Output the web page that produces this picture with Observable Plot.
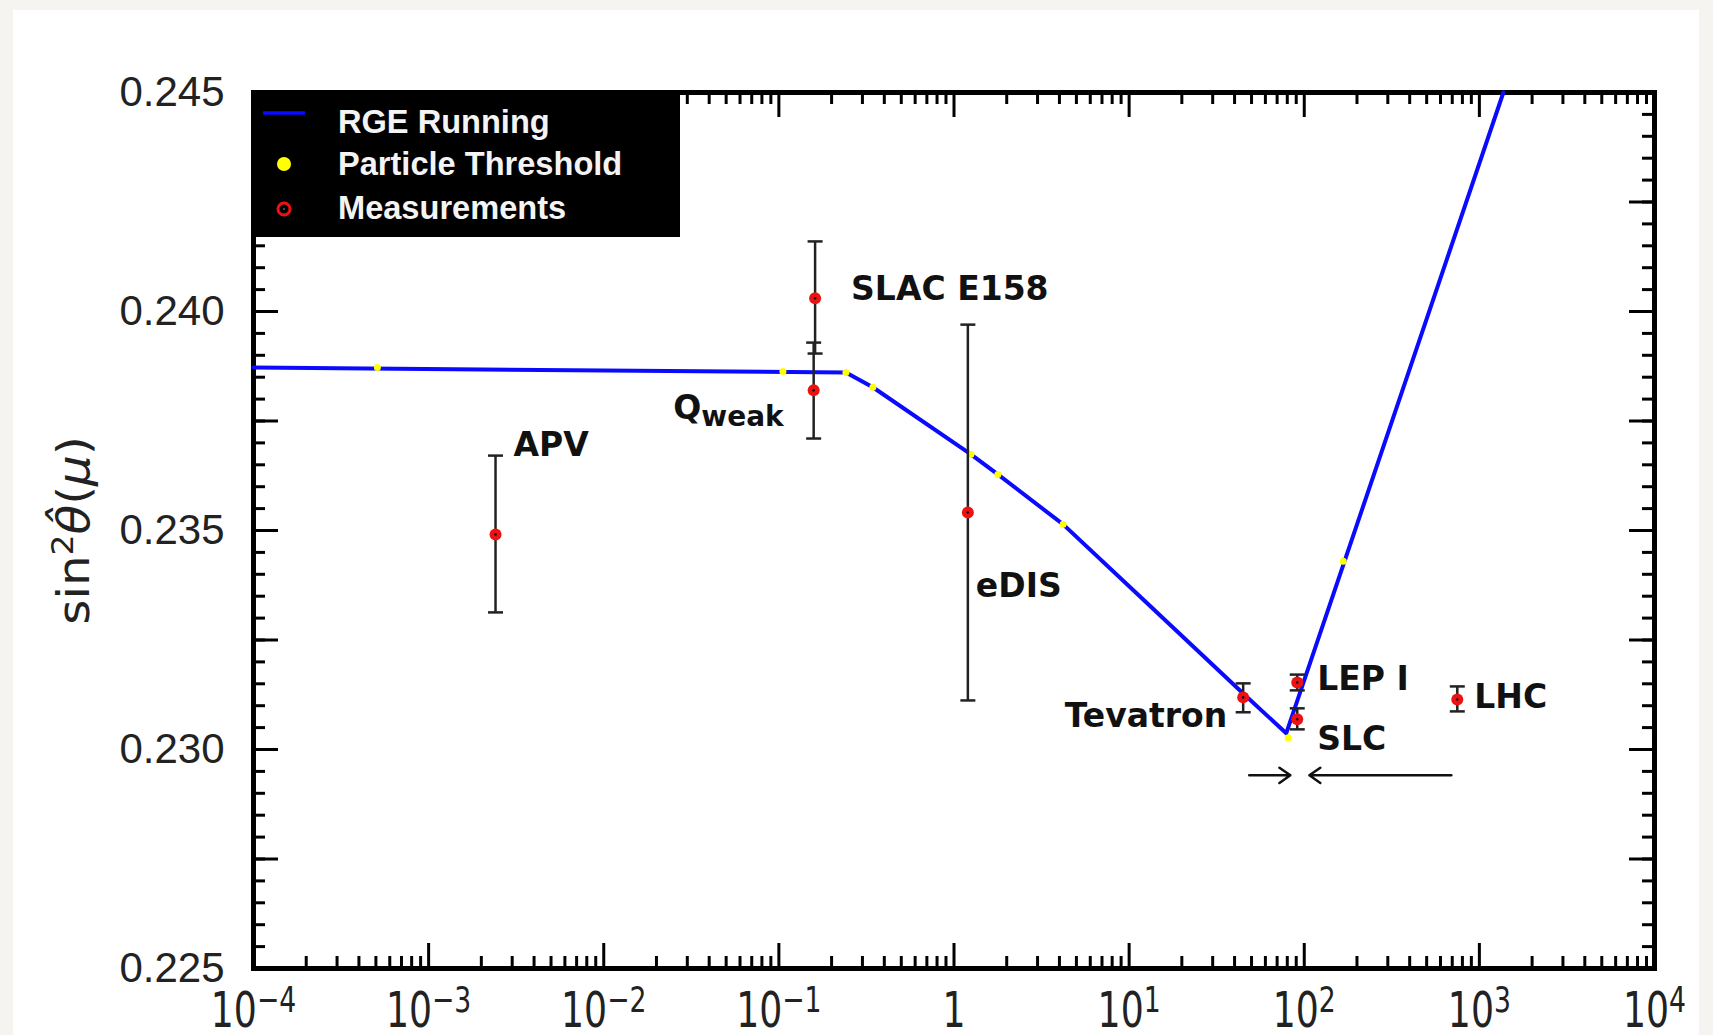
<!DOCTYPE html>
<html><head><meta charset="utf-8">
<script src="https://cdn.jsdelivr.net/npm/d3@7"></script>
<script src="https://cdn.jsdelivr.net/npm/@observablehq/plot@0.6"></script>
<style>
html,body{margin:0;padding:0;background:#f5f4f0;width:1713px;height:1035px;overflow:hidden;}
#card{position:absolute;left:13px;top:10px;width:1686px;height:1100px;background:#fff;}
#chart{position:absolute;left:0;top:0;}
#legend{position:absolute;left:251px;top:90px;}
</style></head><body>
<div id="card"></div>
<div id="chart"></div>
<script>
// ---------- DATA ----------
// RGE running curve (mu in GeV, sin^2 theta)
const rgeMu = [1e-4, 0.2415, 0.344, 1.25, 1.78, 4.2, 11.7, 44.8, 78.9, 1371];
const rgeS2 = [0.23872, 0.23861, 0.23827, 0.23674, 0.23628, 0.23514, 0.23347, 0.23128, 0.23037, 0.245];
// particle thresholds
const thrMu = [5.1e-4, 0.1055, 0.2415, 0.344, 1.25, 1.78, 4.2, 81, 167];
const thrS2 = [0.23872, 0.23863, 0.23861, 0.23827, 0.23674, 0.23628, 0.23514, 0.23027, 0.2343];
// measurements
const measNames = ["APV", "Qweak", "SLAC E158", "eDIS", "Tevatron", "LEP I", "SLC", "LHC"];
const measMu    = [2.41e-3, 0.158, 0.161, 1.20, 44.8, 91.2, 91.2, 748];
const measS2    = [0.23491, 0.23820, 0.24030, 0.23541, 0.23119, 0.23153, 0.23069, 0.23114];
const measLo    = [0.23313, 0.23710, 0.23904, 0.23112, 0.23085, 0.23135, 0.23046, 0.23087];
const measHi    = [0.23671, 0.23929, 0.24160, 0.23970, 0.23151, 0.23171, 0.23094, 0.23144];
// arrows
const arrowFrom = [48.5, 692];
const arrowTo   = [83.3, 107];
const arrowS2   = [0.22941, 0.22941];
// axes
const xTickVals = [1e-4, 1e-3, 1e-2, 1e-1, 1, 10, 100, 1000, 10000];
const xTickLabels = ["10^−4", "10^−3", "10^−2", "10^−1", "1", "10^1", "10^2", "10^3", "10^4"];
const yTickVals = [0.225, 0.230, 0.235, 0.240, 0.245];
const yTitle = "sin2θ(μ)";
const legendLabels = ["RGE Running", "Particle Threshold", "Measurements"];

// ---------- LAYOUT / STYLE ----------
const W = 1713, H = 1035, mL = 253, mR = 59, mT = 92, mB = 67;
const fw = W - mL - mR, fh = H - mT - mB;
const labelOffset = { // px offsets of annotation text from its point
  "APV": [18, -89, "start"], "Qweak": [-30, 18, "end"], "SLAC E158": [36, -9, "start"],
  "eDIS": [8, 74, "start"], "Tevatron": [-16, 19, "end"], "LEP I": [20, -3, "start"],
  "SLC": [20, 20, "start"], "LHC": [17, -2, "start"]
};

const rge = rgeMu.map((m, i) => ({mu: m, s2: rgeS2[i]}));
const thr = thrMu.map((m, i) => ({mu: m, s2: thrS2[i]}));
const meas = measNames.map((n, i) => ({name: n, mu: measMu[i], s2: measS2[i], lo: measLo[i], hi: measHi[i]}));
const arrows = arrowFrom.map((f, i) => ({x1: f, x2: arrowTo[i], y: arrowS2[i]}));

const xMinor = [];
for (let e = -4; e < 4; e++) for (let k = 2; k <= 9; k++) xMinor.push(k * Math.pow(10, e));
const yMajor = d3.range(0, 9).map(i => +(0.225 + i * 0.0025).toFixed(4));
const yMinor = d3.range(0, 41).map(i => +(0.225 + i * 0.0005).toFixed(4));

const capSymbol = {draw(ctx, size) { const r = Math.sqrt(size / Math.PI); ctx.moveTo(-r, 0); ctx.lineTo(r, 0); }};
const tickStyle = {stroke: "black", strokeWidth: 3};
const annFont = {fontFamily: "DejaVu Sans", fontWeight: "bold", fontSize: 33, fill: "#111"};

const marks = [
  // ticks (inward)
  Plot.ruleX(xTickVals, {x: d => d, insetTop: fh - 25, ...tickStyle}),
  Plot.ruleX(xTickVals, {x: d => d, insetBottom: fh - 25, ...tickStyle}),
  Plot.ruleX(xMinor, {x: d => d, insetTop: fh - 12, ...tickStyle}),
  Plot.ruleX(xMinor, {x: d => d, insetBottom: fh - 12, ...tickStyle}),
  Plot.ruleY(yMajor, {y: d => d, insetRight: fw - 25, ...tickStyle}),
  Plot.ruleY(yMajor, {y: d => d, insetLeft: fw - 25, ...tickStyle}),
  Plot.ruleY(yMinor, {y: d => d, insetRight: fw - 12, ...tickStyle}),
  Plot.ruleY(yMinor, {y: d => d, insetLeft: fw - 12, ...tickStyle}),
  Plot.frame({stroke: "black", strokeWidth: 5}),
  // RGE line & thresholds
  Plot.line(rge, {x: "mu", y: "s2", stroke: "#0a0aff", strokeWidth: 4}),
  Plot.dot(thr, {x: "mu", y: "s2", r: 3.5, fill: "#ffff00"}),
  // measurements
  Plot.ruleX(meas, {x: "mu", y1: "lo", y2: "hi", stroke: "#222", strokeWidth: 2.5}),
  Plot.dot(meas, {x: "mu", y: "lo", symbol: capSymbol, r: 7.5, fill: "none", stroke: "#222", strokeWidth: 2.5}),
  Plot.dot(meas, {x: "mu", y: "hi", symbol: capSymbol, r: 7.5, fill: "none", stroke: "#222", strokeWidth: 2.5}),
  Plot.dot(meas, {x: "mu", y: "s2", r: 6, fill: "#ee1111"}),
  Plot.dot(meas, {x: "mu", y: "s2", r: 1.3, fill: "#111"}),
  // labels
  ...meas.map(d => Plot.text([d], {x: "mu", y: "s2", text: "name", dx: labelOffset[d.name][0], dy: labelOffset[d.name][1], textAnchor: labelOffset[d.name][2], ...annFont})),
  // arrows
  Plot.arrow(arrows, {x1: "x1", x2: "x2", y1: "y", y2: "y", stroke: "#111", strokeWidth: 2.5, headLength: 8, headAngle: 70}),
  // axis labels
  Plot.text(yTickVals, {y: d => d, frameAnchor: "left", dx: -29, textAnchor: "end", lineAnchor: "middle", text: d => d.toFixed(3), fontSize: 42, fontFamily: "Liberation Sans", fill: "#222"}),
  Plot.text(xTickVals, {x: d => d, frameAnchor: "bottom", lineAnchor: "bottom", textAnchor: "middle", dy: 58, text: (d, i) => xTickLabels[i], fontSize: 49, fontFamily: "DejaVu Sans", fill: "#222"}),
  Plot.text([yTitle], {frameAnchor: "left", dx: -179, rotate: -90, textAnchor: "middle", lineAnchor: "middle", fontSize: 44, fontFamily: "DejaVu Sans", fill: "#222"})
];

const plot = Plot.plot({
  width: W, height: H,
  marginLeft: mL, marginRight: mR, marginTop: mT, marginBottom: mB,
  x: {type: "log", domain: [1e-4, 1e4], axis: null},
  y: {domain: [0.225, 0.245], axis: null},
  style: {background: "transparent", overflow: "visible"},
  marks
});
document.getElementById("chart").appendChild(plot);

// ---------- text post-processing (superscripts/subscripts) ----------
const NS = "http://www.w3.org/2000/svg";
function tspan(txt, attrs) {
  const s = document.createElementNS(NS, "tspan");
  for (const k in attrs) s.setAttribute(k, attrs[k]);
  s.textContent = txt; return s;
}
plot.querySelectorAll("text").forEach(t => {
  const s = t.textContent;
  const m = /^10\^(.+)$/.exec(s);
  if (m) {
    t.textContent = "10";
    t.appendChild(tspan(m[1], {"font-size": 36, dy: -15}));
  }
  if (xTickLabels.includes(s)) {
    const b = t.getBBox(); const cx = b.x + b.width / 2;
    t.setAttribute("transform", (t.getAttribute("transform") || "") + ` translate(${cx},0) scale(0.74,1) translate(${-cx},0)`);
  }
  if (s === "Qweak") {
    t.textContent = "Q";
    t.appendChild(tspan("weak", {"font-size": 28, dy: 7}));
  }
  if (s === yTitle) {
    t.textContent = "sin";
    t.appendChild(tspan("2", {"font-size": 30, dy: -16}));
    t.appendChild(tspan("θ\u0302", {dy: 16, "font-style": "italic"}));
    t.appendChild(tspan("(", {}));
    t.appendChild(tspan("μ", {"font-style": "italic"}));
    t.appendChild(tspan(")", {}));
    t.setAttribute("transform", (t.getAttribute("transform") || "") + " scale(1.1,1)");
  }
});

// ---------- legend ----------
const lg = d3.select("body").append("svg").attr("id", "legend").attr("width", 429).attr("height", 147);
lg.append("rect").attr("width", 429).attr("height", 147).attr("fill", "#000");
lg.append("line").attr("x1", 12).attr("x2", 54).attr("y1", 23).attr("y2", 23).attr("stroke", "#0a0aff").attr("stroke-width", 3.5);
lg.append("circle").attr("cx", 33).attr("cy", 74).attr("r", 7).attr("fill", "#ffff00");
lg.append("circle").attr("cx", 33).attr("cy", 119).attr("r", 6).attr("fill", "#000").attr("stroke", "#ee1111").attr("stroke-width", 3);
lg.append("circle").attr("cx", 33).attr("cy", 119).attr("r", 1.2).attr("fill", "#444");
lg.selectAll("text.lab").data(legendLabels).join("text").attr("class", "lab")
  .attr("x", 87).attr("y", (d, i) => [43, 85, 129][i])
  .attr("fill", "#f4f4f4").attr("font-family", "Liberation Sans").attr("font-weight", "bold").attr("font-size", 32.6)
  .text(d => d);
</script>
</body></html>
